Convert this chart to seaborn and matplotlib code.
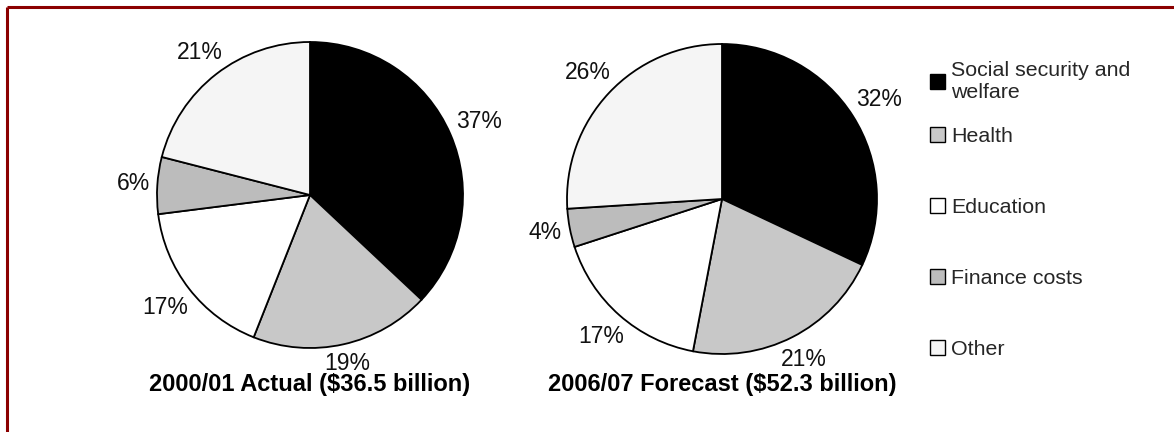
import matplotlib
matplotlib.use("Agg")
import numpy as np
import matplotlib.pyplot as plt
from matplotlib.patches import Patch
from matplotlib.lines import Line2D
import seaborn as sns

# Spending categories and their shares (%) of the total
categories = ["Social security and\nwelfare", "Health", "Education", "Finance costs", "Other"]
shares_2000 = [37, 19, 17, 6, 21]
shares_2006 = [32, 21, 17, 4, 26]
titles = ["2000/01 Actual ($36.5 billion)", "2006/07 Forecast ($52.3 billion)"]

colors = ["#000000", "#C8C8C8", "#FFFFFF", "#BCBCBC", "#F5F5F5"]

sns.set_theme(style="white")
plt.rcParams["font.family"] = ["Liberation Sans", "DejaVu Sans"]

W, H = 1174, 432
fig = plt.figure(figsize=(W / 100, H / 100), dpi=100)
ax = fig.add_axes([0, 0, 1, 1])

# pie centres and radii in pixel units (y measured from the top)
pies = [
    (shares_2000, 310, 195, 153, titles[0]),
    (shares_2006, 722, 199, 155, titles[1]),
]

drawn = []
for shares, cx, cy, r, title in pies:
    wedges, _, pct_texts = ax.pie(
        shares,
        colors=colors,
        startangle=90,
        counterclock=False,
        center=(cx, H - cy),
        radius=r,
        autopct=lambda p: f"{p:.0f}%",
        pctdistance=1.2,
        wedgeprops=dict(edgecolor="black", linewidth=1.3),
        textprops=dict(fontsize=16.5, color="#111111"),
    )
    drawn.append((wedges, pct_texts, cx, H - cy, r))
    ax.text(cx, H - 385, title, ha="center", va="center",
            fontsize=17, fontweight="bold", color="black")

ax.set_xlim(0, W)
ax.set_ylim(0, H)
ax.set_aspect("equal")
ax.axis("off")

# place each percentage just outside the rim, along its slice's mid-angle
fig.canvas.draw()
renderer = fig.canvas.get_renderer()
inv = ax.transData.inverted()
gap = 7
for wedges, pct_texts, cx, cy, r in drawn:
    for w, t in zip(wedges, pct_texts):
        ang = np.deg2rad((w.theta1 + w.theta2) / 2)
        ux, uy = np.cos(ang), np.sin(ang)
        bb = t.get_window_extent(renderer).transformed(inv)
        d = r + gap + abs(ux) * bb.width / 2 + abs(uy) * bb.height * 0.35
        t.set_position((cx + d * ux, cy + d * uy))

handles = [Patch(facecolor=c, edgecolor="black", linewidth=1.0) for c in colors]
legend_kw = dict(frameon=False, fontsize=15.4, handlelength=0.7, handleheight=0.7,
                 handletextpad=0.3, borderpad=0, borderaxespad=0)
fig.legend(handles[:1], categories[:1], loc="center left",
           bbox_to_anchor=(930 / W, 1 - 81 / H), **legend_kw)
fig.legend(handles[1:], categories[1:], loc="center left",
           bbox_to_anchor=(930 / W, 1 - 243 / H), labelspacing=2.42, **legend_kw)

# dark red frame along the top and left edges
frame = "#8B0000"
fig.add_artist(Line2D([7 / W, 7 / W], [0, 1 - 7 / H], color=frame, linewidth=2.2,
                      transform=fig.transFigure, solid_capstyle="butt"))
fig.add_artist(Line2D([7 / W, 1], [1 - 7 / H, 1 - 7 / H], color=frame, linewidth=2.2,
                      transform=fig.transFigure, solid_capstyle="butt"))

fig.savefig("out.png", dpi=100, facecolor="white")
